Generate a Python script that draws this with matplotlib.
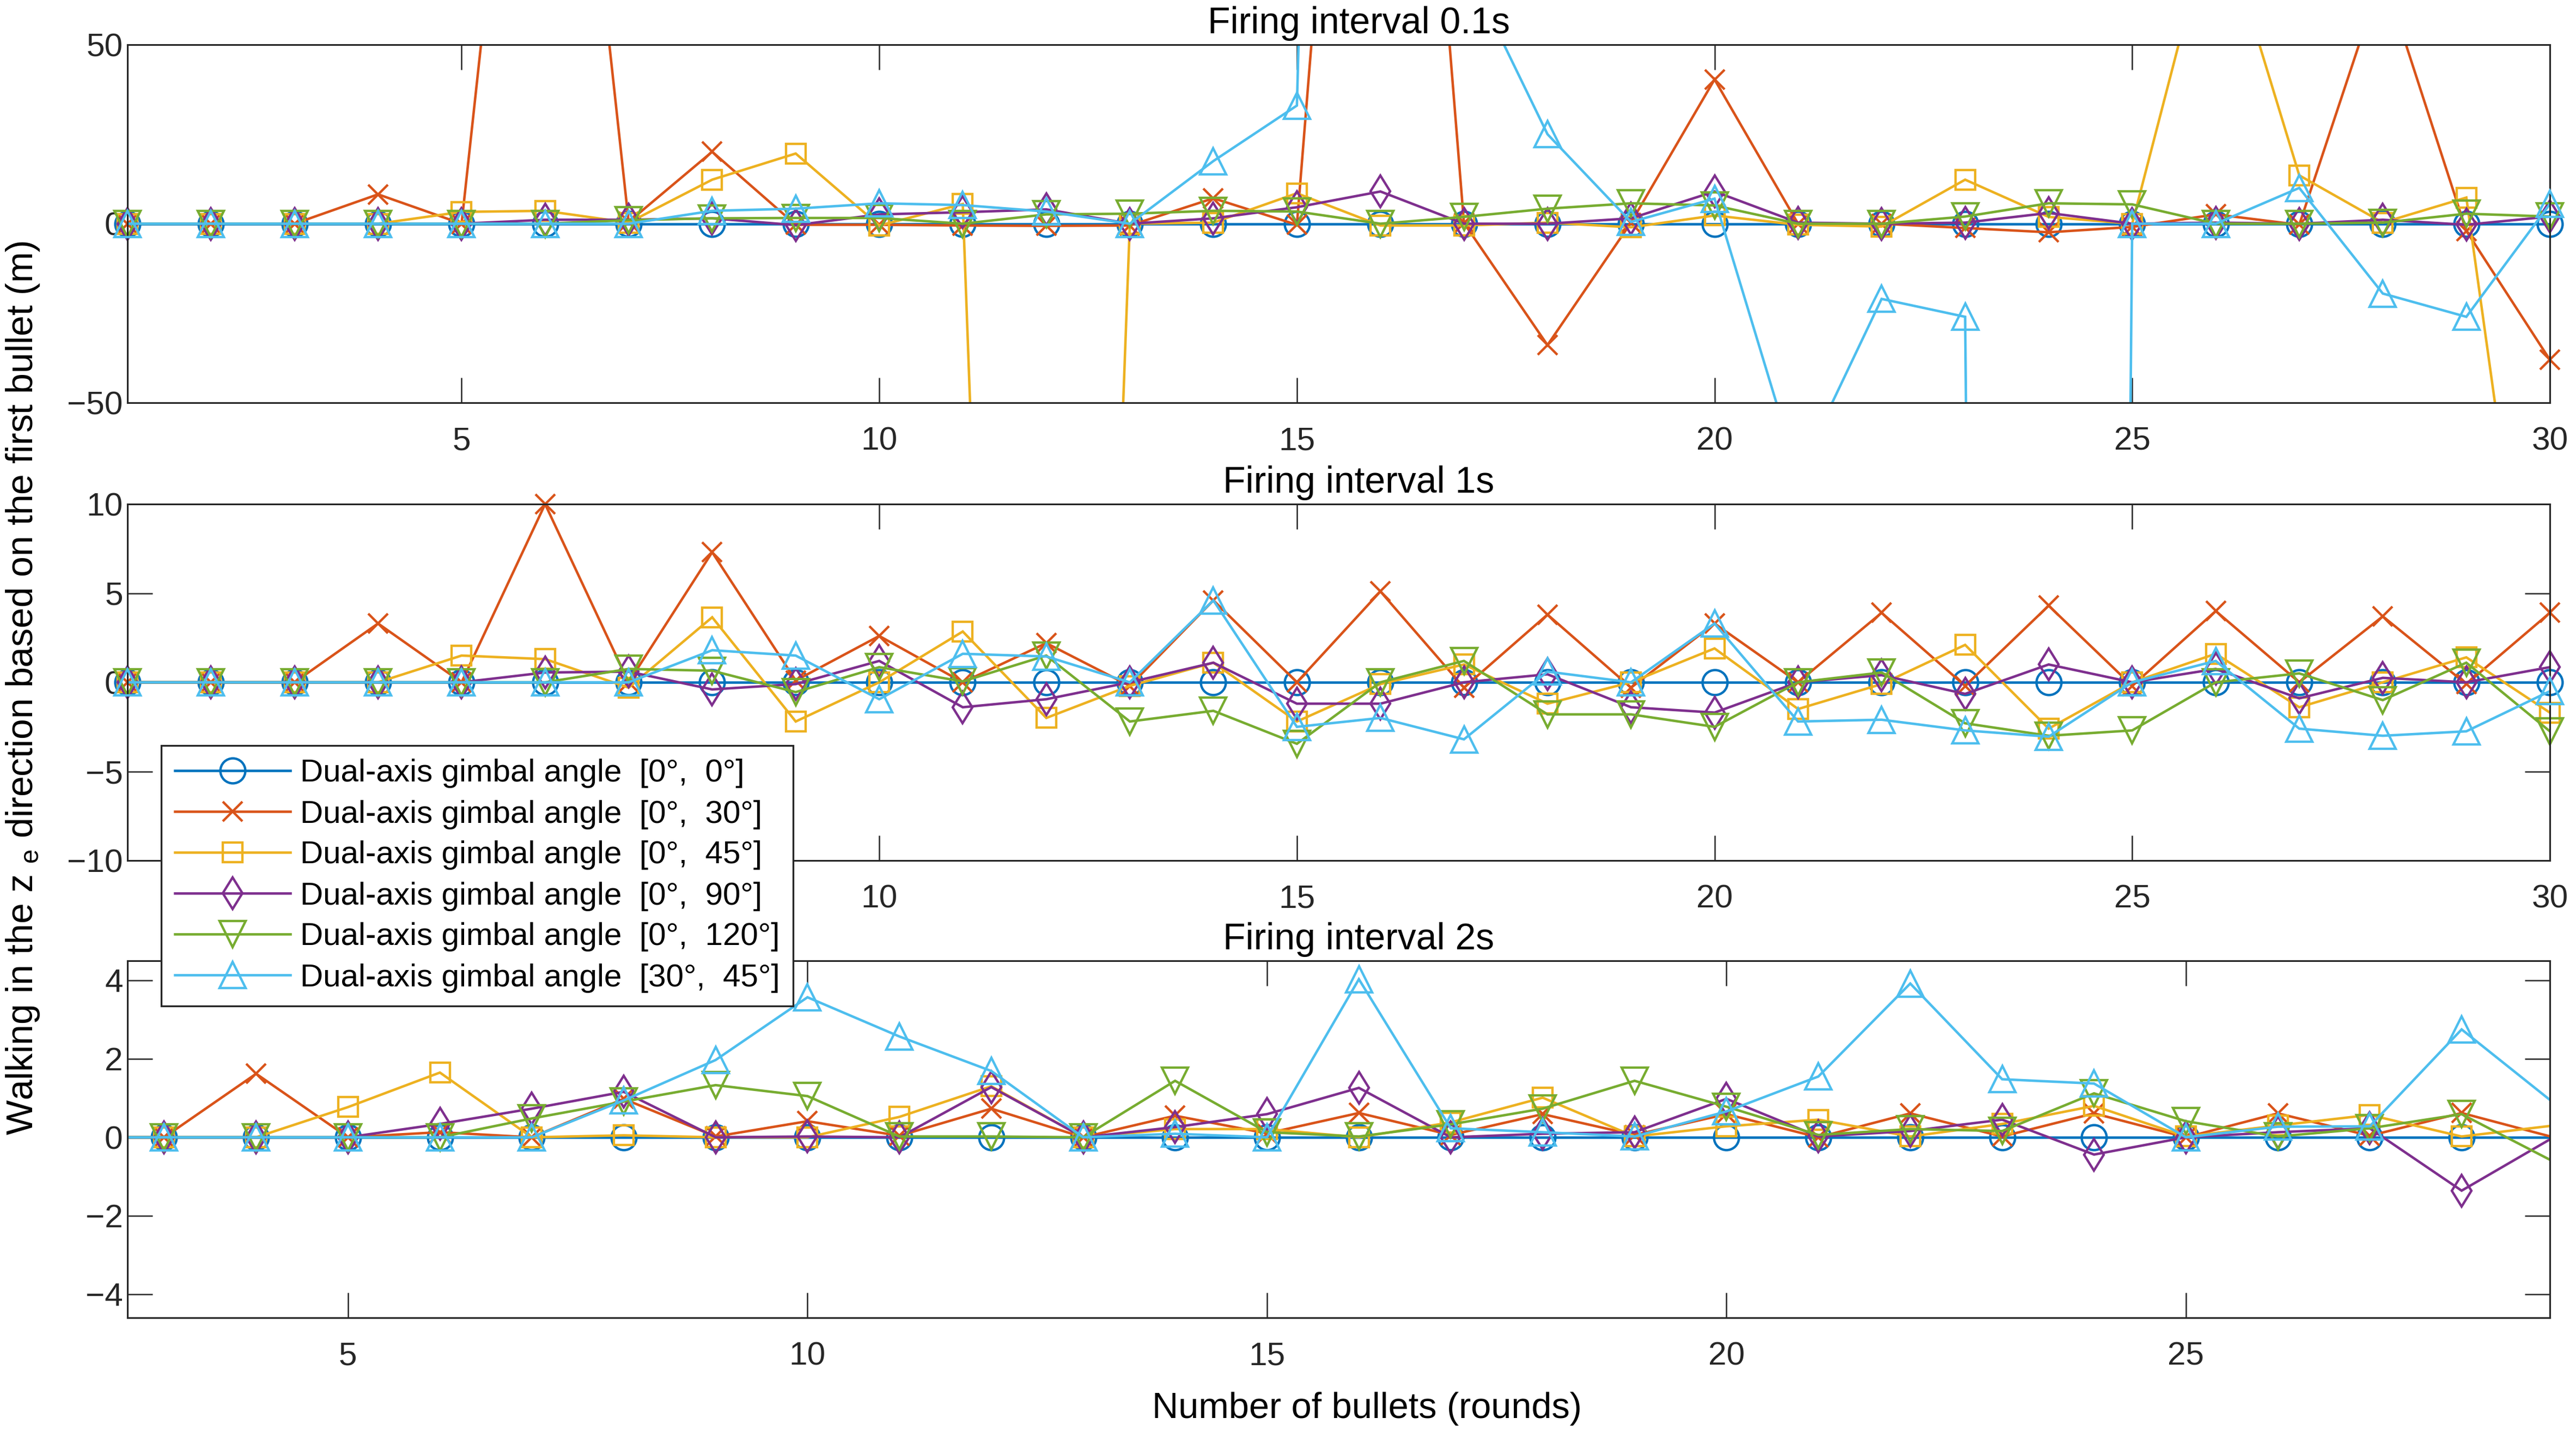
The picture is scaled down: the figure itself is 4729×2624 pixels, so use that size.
import numpy as np
import matplotlib
matplotlib.use('Agg')
import matplotlib.pyplot as plt
from matplotlib.lines import Line2D

plt.rcParams['font.family'] = ['Liberation Sans', 'DejaVu Sans']
plt.rcParams['mathtext.fontset'] = 'custom'
plt.rcParams['mathtext.rm'] = 'Liberation Sans'
plt.rcParams['axes.unicode_minus'] = True

# ---------------- data ----------------
rounds_full = np.arange(1, 31)          # panels 0.1 s and 1 s
rounds_2s = np.arange(2, 30)            # panel 2 s (visible window 2.6 .. 29)

legend_labels = [
    'Dual-axis gimbal angle  [0°,  0°]',
    'Dual-axis gimbal angle  [0°,  30°]',
    'Dual-axis gimbal angle  [0°,  45°]',
    'Dual-axis gimbal angle  [0°,  90°]',
    'Dual-axis gimbal angle  [0°,  120°]',
    'Dual-axis gimbal angle  [30°,  45°]',
]
panel_titles = ['Firing interval 0.1s', 'Firing interval 1s', 'Firing interval 2s']

# Firing interval 0.1 s
i01_0_0 = [0] * 30
i01_0_30 = [0, 0, 0, 8.2, 0, 215, 0.5, 20.1, -0.3, -0.3, -0.5, -0.6, -0.5, 7.1, -0.3, 290,
            0.2, -33.9, 0.3, 40.3, 0, 0, -1.2, -2.4, -0.9, 2.6, -0.3, 70, -2, -38]
i01_0_45 = [0, 0, 0, 0, 3.3, 3.6, 0.3, 12.3, 19.6, -0.5, 5.5, -630, 0, 0.3, 8.5, -0.5,
            -0.5, 0.3, -1.0, 2.3, -0.3, -0.8, 12.3, 1.9, 0, 90, 13.5, 0.3, 7.3, -160]
i01_0_90 = [0, 0, 0, 0, 0, 1.1, 1.1, 1.5, -0.4, 2.6, 3.2, 4.0, 0, 1.5, 4.6, 9.0,
            0, 0, 1.5, 9.0, 0.3, 0, 0.3, 3.0, 0, 0.3, 0, 1.1, -0.3, 2.0]
i01_0_120 = [0, 0, 0, 0, 0, 0, 1.0, 1.5, 1.6, 1.6, 0, 2.6, 2.8, 3.6, 3.4, 0,
             1.9, 4.2, 5.7, 5.1, 0, 0, 2.0, 5.7, 5.4, 0, 0, 0.3, 2.8, 2.0]
i01_30_45 = [0, 0, 0, 0, 0, 0, 0, 3.6, 4.2, 5.7, 5.2, 3.4, 0, 17.5, 33, 900,
             73, 25, 0.5, 7, -70, -21, -26, -2500, 0, 0, 10, -19.5, -26, 5.5]

# Firing interval 1 s
i1_0_0 = [0] * 30
i1_0_30 = [0, 0, 0, 3.3, 0, 10.0, 0, 7.3, 0.1, 2.6, 0, 2.2, -0.2, 4.6, 0, 5.1,
           -0.3, 3.8, -0.3, 3.3, 0, 3.9, -0.2, 4.3, -0.2, 4.0, 0, 3.7, -0.1, 3.9]
i1_0_45 = [0, 0, 0, 0, 1.5, 1.3, -0.3, 3.65, -2.2, 0, 2.85, -2.0, -0.2, 1.1, -2.2, -0.1,
           1.0, -1.2, 0, 1.9, -1.5, -0.1, 2.1, -2.6, 0, 1.6, -1.4, 0, 1.4, -1.7]
i1_0_90 = [0, 0, 0, 0, 0, 0.55, 0.6, -0.4, -0.1, 1.2, -1.4, -0.95, 0, 1.1, -1.2, -1.2,
           0, 0.45, -1.4, -1.7, 0, 0.4, -0.65, 1.0, 0, 0.75, -0.9, 0.25, 0, 0.85]
i1_0_120 = [0, 0, 0, 0, 0, 0, 0.75, 0.65, -0.55, 0.85, 0.05, 1.5, -2.2, -1.6, -3.45, 0,
            1.2, -1.8, -1.8, -2.5, 0, 0.55, -2.3, -3.0, -2.7, 0, 0.5, -1.0, 1.1, -2.75]
i1_30_45 = [0, 0, 0, 0, 0, 0, 0, 1.8, 1.5, -0.95, 1.6, 1.45, 0, 4.6, -2.5, -2.0,
            -3.2, 0.6, 0, 3.3, -2.2, -2.1, -2.7, -3.05, 0, 1.2, -2.6, -3.0, -2.75, -0.5]

# Firing interval 2 s (rounds 2 .. 29)
i2_0_0 = [0] * 28
i2_0_30 = [0, 0, 1.62, 0, 0.13, 0, 0.98, 0.02, 0.41, 0.04, 0.73, 0, 0.55, 0.1,
           0.62, 0.06, 0.59, 0.06, 0.59, 0, 0.61, 0.02, 0.61, 0, 0.61, 0.04, 0.62, 0]
i2_0_45 = [0, 0, 0, 0.77, 1.65, 0, 0.05, 0, 0, 0.52, 1.3, 0, 0.21, 0.21,
           0, 0.38, 1.01, 0.02, 0.28, 0.45, 0.02, 0.34, 0.8, 0.02, 0.3, 0.57, 0.02, 0.3]
i2_0_90 = [0, 0, 0, 0, 0.34, 0.73, 1.16, 0, 0.02, 0, 1.28, 0, 0.26, 0.59,
           1.26, 0, 0.09, 0.13, 0.98, 0.02, 0.16, 0.45, -0.44, 0, 0.13, 0.23, -1.36, 0]
i2_0_120 = [0, 0, 0, 0, 0, 0.48, 0.91, 1.33, 1.05, 0.02, 0.02, 0, 1.44, 0.13,
            0.02, 0.33, 0.73, 1.44, 0.78, 0.06, 0.21, 0.16, 1.12, 0.41, 0.02, 0.23, 0.59, -0.62]
i2_30_45 = [0, 0, 0, 0, 0, 0, 0.94, 1.97, 3.57, 2.57, 1.69, 0, 0.09, 0,
            4.03, 0.23, 0.13, 0.02, 0.66, 1.55, 3.92, 1.48, 1.37, 0, 0.27, 0.28, 2.75, 0.88]

# ---------------- style ----------------
colors = ['#0072BD', '#D95319', '#EDB120', '#7E2F8E', '#77AC30', '#4DBEEE']
markers = ['o', 'x', 's', 'd', 'v', '^']
msizes = [11, 8.5, 8.7, 10, 11.5, 11.5]
LW = 1.1
MEW = 1.05
AXC = '#262626'

W, H = 4729, 2624
fig = plt.figure(figsize=(W / 300, H / 300), dpi=300)


def px_axes(x0, y0, x1, y1):
    return fig.add_axes([x0 / W, 1 - y1 / H, (x1 - x0) / W, (y1 - y0) / H])


axes = [px_axes(234, 82, 4681, 739),
        px_axes(234, 925, 4681, 1579),
        px_axes(234, 1763, 4681, 2418)]

panels = [
    (rounds_full, [i01_0_0, i01_0_30, i01_0_45, i01_0_90, i01_0_120, i01_30_45],
     (1, 30), (-50, 50), [5, 10, 15, 20, 25, 30], [-50, 0, 50]),
    (rounds_full, [i1_0_0, i1_0_30, i1_0_45, i1_0_90, i1_0_120, i1_30_45],
     (1, 30), (-10, 10), [10, 15, 20, 25, 30], [-10, -5, 0, 5, 10]),
    (rounds_2s, [i2_0_0, i2_0_30, i2_0_45, i2_0_90, i2_0_120, i2_30_45],
     (2.6, 28.96), (-4.6, 4.5), [5, 10, 15, 20, 25], [-4, -2, 0, 2, 4]),
]

for ax, title, (x, series, xl, yl, xt, yt) in zip(axes, panel_titles, panels):
    x = np.asarray(x, float)
    for i, (yv, c, m, ms) in enumerate(zip(series, colors, markers, msizes)):
        y = np.asarray(yv, float)
        z = 2 + i * 0.1
        ax.plot(x, y, color=c, lw=LW, zorder=z, solid_joinstyle='miter')
        ok = (x >= xl[0]) & (x <= xl[1]) & (y >= yl[0]) & (y <= yl[1])
        ax.plot(x[ok], y[ok], ls='none', marker=m, ms=ms, mfc='none', mec=c,
                mew=MEW, clip_on=False, zorder=z + 0.05)
    ax.set_xlim(*xl)
    ax.set_ylim(*yl)
    ax.set_xticks(xt)
    ax.set_yticks(yt)
    ax.tick_params(direction='in', length=11, width=0.6, top=True, right=True,
                   labelsize=14.5, colors=AXC, labelcolor=AXC)
    ax.tick_params(axis='x', pad=10.5)
    ax.tick_params(axis='y', pad=2)
    for s in ax.spines.values():
        s.set_linewidth(0.75)
        s.set_color(AXC)
    ax.set_title(title, fontsize=16.3, pad=5, color='black', x=0.5083)

handles = [Line2D([], [], color=c, lw=LW, marker=m, ms=ms, mfc='none', mec=c, mew=MEW)
           for c, m, ms in zip(colors, markers, msizes)]
leg = fig.legend(handles, legend_labels, loc='upper left',
                 bbox_to_anchor=(296 / W, 1 - 1368 / H), bbox_transform=fig.transFigure,
                 borderaxespad=0, fontsize=14, frameon=True, fancybox=False,
                 edgecolor=AXC, framealpha=1, handlelength=3.65, handletextpad=0.3,
                 labelspacing=0.36, borderpad=0.42, numpoints=1)
leg.get_frame().set_linewidth(0.8)
leg.set_zorder(20)

fig.text(0.0089, 1 - 1262 / H,
         r'Walking in the z $_\mathregular{e}$ direction based on the first bullet (m)',
         rotation=90, ha='center', va='center', fontsize=16.3, color='black')
fig.text(2509 / W, 1 - 2585 / H, 'Number of bullets (rounds)',
         ha='center', va='center', fontsize=16, color='black')

fig.savefig('out.png', dpi=300)
